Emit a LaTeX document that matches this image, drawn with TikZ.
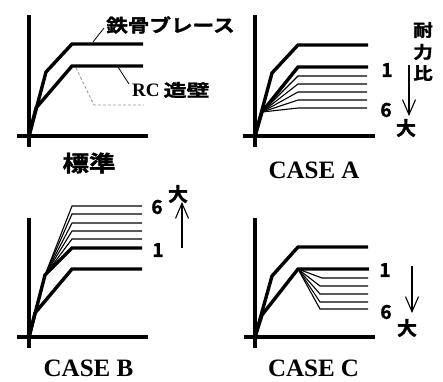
\documentclass[tikz,border=0pt]{standalone}
\usepackage{fontspec}
\setmainfont{Liberation Serif}
\newfontfamily\jp{Noto Sans CJK JP Bold}[FakeBold=1.6]
\usetikzlibrary{arrows.meta}
\newcommand\jpx[3]{\scalebox{#1}[1]{\jp\fontsize{#2}{#2}\selectfont #3}}
\tikzset{
  axisline/.style={line width=4pt},
  curvethick/.style={line width=3.4pt, line join=miter, line cap=butt},
  curvethin/.style={line width=1.1pt},
  dashline/.style={line width=0.8pt, gray!80, dash pattern=on 3pt off 2pt},
  leader/.style={line width=0.8pt},
  arr/.style={line width=1.1pt, -{Straight Barb[length=15pt,width=13pt]}},
  casefont/.style={inner sep=0pt, font=\fontsize{25}{25}\selectfont\bfseries},
  numlabel/.style={inner sep=0pt, font=\jp\fontsize{19}{19}\selectfont},
  plain/.style={inner sep=0pt}
}
\begin{document}
\begin{tikzpicture}[x=1pt,y=-1pt]
\path[use as bounding box] (0,0) rectangle (443,381);

% ---------- Panel 1: standard ----------
\draw[axisline] (29,15) -- (29,147);
\draw[axisline] (17,136) -- (148,136);
\draw[curvethick] (29,136) -- (46,72) -- (72,44) -- (143,44);
\draw[curvethick] (29,136) -- (36,108) -- (72,66) -- (143,66);
\draw[dashline] (76,68) -- (94,105) -- (144,105);
\node[plain, anchor=west] (brace) at (106,25) {\jpx{1.2}{18}{鉄骨ブレース}};
\node[plain, anchor=west] (rc) at (132,90) {{\fontsize{19}{19}\selectfont\bfseries RC}\hspace{4pt}\jpx{1.35}{17}{造壁}};
\coordinate (l1a) at (93,42); \coordinate (l1b) at (104,28);
\coordinate (l2a) at (118,67); \coordinate (l2b) at (129,84);
\draw[leader] (l1a) -- (l1b);
\draw[leader] (l2a) -- (l2b);
\node[plain] (std) at (89,163) {\jpx{1.2}{22}{標準}};

% ---------- Panel 2: CASE A ----------
\draw[axisline] (255,15) -- (255,147);
\draw[axisline] (243,136) -- (375,136);
\draw[curvethick] (255,136) -- (272,73) -- (298,45) -- (368,45);
\draw[curvethick] (255,136) -- (262,112) -- (298,67) -- (368,67);
\foreach \yy in {76,84,92,100,108}
  \draw[curvethin] (262,112) -- (298,\yy) -- (367,\yy);
\node[numlabel] (a1) at (387,70) {1};
\node[numlabel] (a6) at (386,110) {6};
\node[plain] (tai1) at (423,30) {\jpx{1.15}{17}{耐}};
\node[plain] (tai2) at (423,52) {\jpx{1.15}{17}{力}};
\node[plain] (tai3) at (423,73) {\jpx{1.15}{17}{比}};
\coordinate (aA1) at (409,65); \coordinate (aA2) at (409,116);
\draw[arr] (aA1) -- (aA2);
\node[plain] (daiA) at (406,128) {\jpx{1.05}{19}{大}};
\node[casefont] (caseA) at (314,170) {CASE A};

% ---------- Panel 3: CASE B ----------
\draw[axisline] (29,218) -- (29,348);
\draw[axisline] (17,337) -- (148,337);
\draw[curvethick] (29,337) -- (35,313) -- (72,269) -- (142,269);
\draw[curvethick] (29,337) -- (45,275) -- (72,248) -- (142,248);
\foreach \yy in {239,231,223,214,206}
  \draw[curvethin] (45,275) -- (72,\yy) -- (142,\yy);
\node[numlabel] (b6) at (157,207) {6};
\node[numlabel] (b1) at (158,250) {1};
\coordinate (aB1) at (182,248); \coordinate (aB2) at (182,202);
\draw[arr] (aB1) -- (aB2);
\node[plain] (daiB) at (178,194) {\jpx{1.05}{19}{大}};
\node[casefont] (caseB) at (88.5,368.5) {CASE B};

% ---------- Panel 4: CASE C ----------
\draw[axisline] (255,218) -- (255,348);
\draw[axisline] (244,337) -- (375,337);
\draw[curvethick] (255,337) -- (272,276) -- (298,247) -- (368,247);
\draw[curvethick] (255,337) -- (262,315) -- (298,269) -- (369,269);
\draw[curvethin] (298,269) -- (322,278) -- (368,278);
\foreach \yy in {286,294,302,309}
  \draw[curvethin] (298,269) -- (320,\yy) -- (368,\yy);
\node[numlabel] (c1) at (385,270) {1};
\node[numlabel] (c6) at (386,312) {6};
\coordinate (aC1) at (412,266); \coordinate (aC2) at (412,313);
\draw[arr] (aC1) -- (aC2);
\node[plain] (daiC) at (407,328) {\jpx{1.05}{19}{大}};
\node[casefont] (caseC) at (313.5,368.5) {CASE C};
\end{tikzpicture}
\end{document}
